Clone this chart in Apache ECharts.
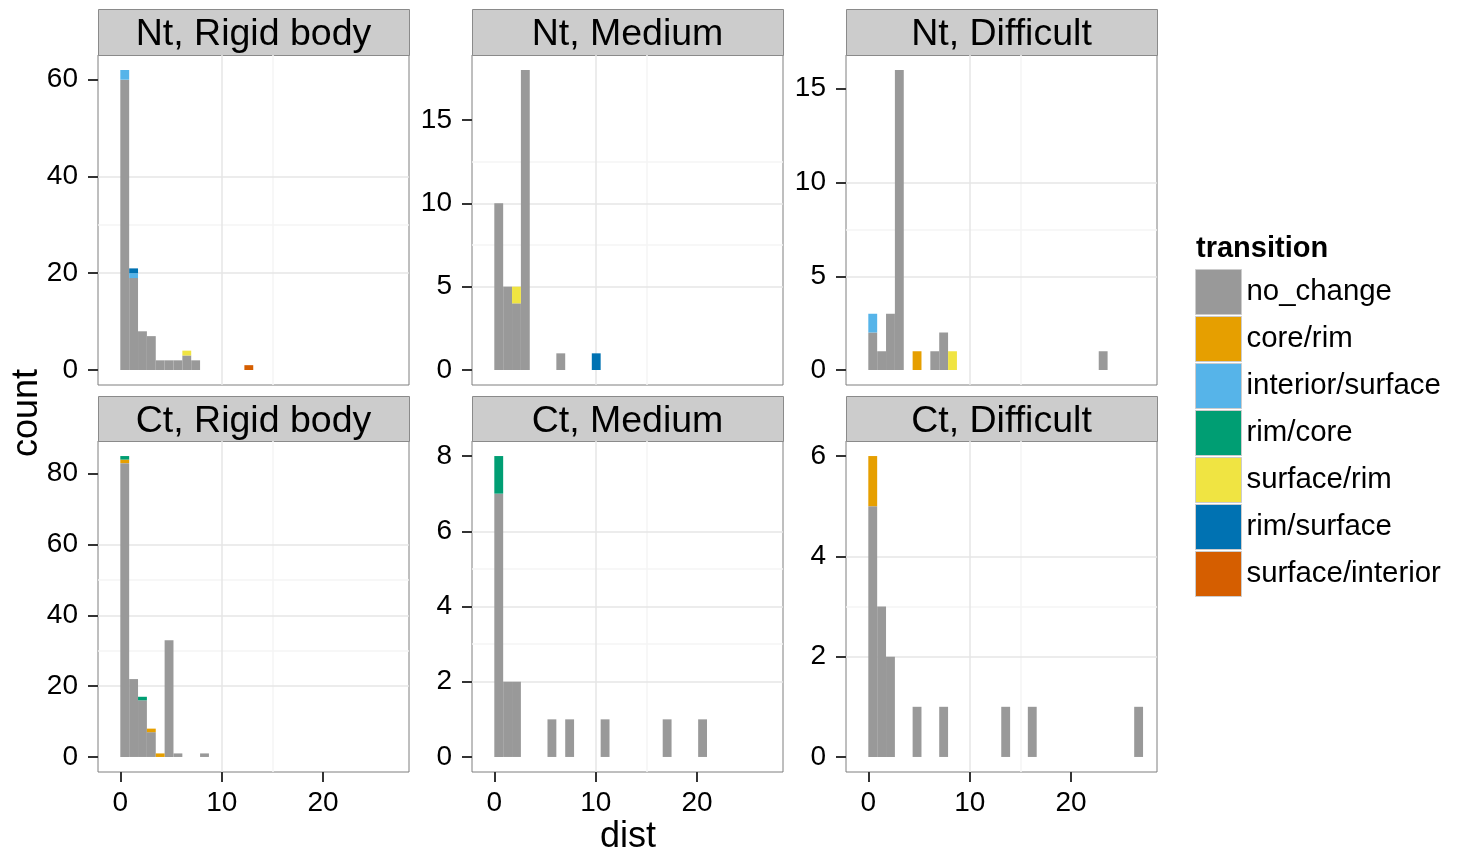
<!DOCTYPE html>
<html>
<head>
<meta charset="utf-8">
<title>dist by transition</title>
<script src="https://cdn.jsdelivr.net/npm/echarts@6/dist/echarts.min.js"></script>
<style>
  html, body { margin: 0; padding: 0; background: #fff; }
  #chart { width: 1460px; height: 856px; }
</style>
</head>
<body>
<div id="chart"></div>
<script>
// legend order is also the stacking order (bottom -> top)
const transitions = ['no_change', 'core/rim', 'interior/surface', 'rim/core', 'surface/rim', 'rim/surface', 'surface/interior'];
const transitionColors = ['#999999', '#E69F00', '#56B4E9', '#009E73', '#F0E442', '#0072B2', '#D55E00'];

// histogram bins: bin k covers [k*binWidth, (k+1)*binWidth)
const binWidth = 0.874;

// rows are [bin, transition, count]
const ntRigid = [
  [0, 'no_change', 60], [0, 'interior/surface', 2],
  [1, 'no_change', 19], [1, 'interior/surface', 1], [1, 'rim/surface', 1],
  [2, 'no_change', 8], [3, 'no_change', 7], [4, 'no_change', 2], [5, 'no_change', 2], [6, 'no_change', 2],
  [7, 'no_change', 3], [7, 'surface/rim', 1], [8, 'no_change', 2],
  [14, 'surface/interior', 1]
];
const ntMedium = [
  [0, 'no_change', 10], [1, 'no_change', 5], [2, 'no_change', 4], [2, 'surface/rim', 1],
  [3, 'no_change', 18], [7, 'no_change', 1], [11, 'rim/surface', 1]
];
const ntDifficult = [
  [0, 'no_change', 2], [0, 'interior/surface', 1], [1, 'no_change', 1], [2, 'no_change', 3],
  [3, 'no_change', 16], [5, 'core/rim', 1], [7, 'no_change', 1], [8, 'no_change', 2],
  [9, 'surface/rim', 1], [26, 'no_change', 1]
];
const ctRigid = [
  [0, 'no_change', 83], [0, 'core/rim', 1], [0, 'rim/core', 1],
  [1, 'no_change', 22], [2, 'no_change', 16], [2, 'rim/core', 1],
  [3, 'no_change', 7], [3, 'core/rim', 1], [4, 'core/rim', 1],
  [5, 'no_change', 33], [6, 'no_change', 1], [9, 'no_change', 1]
];
const ctMedium = [
  [0, 'no_change', 7], [0, 'rim/core', 1], [1, 'no_change', 2], [2, 'no_change', 2],
  [6, 'no_change', 1], [8, 'no_change', 1], [12, 'no_change', 1], [19, 'no_change', 1], [23, 'no_change', 1]
];
const ctDifficult = [
  [0, 'no_change', 5], [0, 'core/rim', 1], [1, 'no_change', 3], [2, 'no_change', 2],
  [5, 'no_change', 1], [8, 'no_change', 1], [15, 'no_change', 1], [18, 'no_change', 1], [30, 'no_change', 1]
];

const panelTitles = ['Nt, Rigid body', 'Nt, Medium', 'Nt, Difficult', 'Ct, Rigid body', 'Ct, Medium', 'Ct, Difficult'];
const panelRows = [ntRigid, ntMedium, ntDifficult, ctRigid, ctMedium, ctDifficult];

// tick labels
const xTicks = [0, 10, 20];
const xMinorTicks = [5, 15, 25];
const yTicks = [[0, 20, 40, 60], [0, 5, 10, 15], [0, 5, 10, 15], [0, 20, 40, 60, 80], [0, 2, 4, 6, 8], [0, 2, 4, 6]];
const yMinorTicks = [[10, 30, 50], [2.5, 7.5, 12.5, 17.5], [2.5, 7.5, 12.5], [10, 30, 50, 70], [1, 3, 5, 7], [1, 3, 5]];

const xMin = -2.2, xMax = 28.47;

// layout
const font = '"Liberation Sans", Arial, Helvetica, sans-serif';
const colLeft = [98, 472, 846];
const panelW = 311;
const rowTop = [55, 441];
const panelH = [330, 331];
const stripTop = [9, 396];
const stripH = [46, 45];

const tickLine = { show: true, length: 10, lineStyle: { color: '#333', width: 2 } };

// stack the rows of one panel into rectangles [x0, x1, y0, y1], per transition
function stackPanel(rows) {
  const base = {};
  const out = transitions.map(() => []);
  transitions.forEach((t, ti) => {
    rows.filter(r => r[1] === t).sort((a, b) => a[0] - b[0]).forEach(r => {
      const y0 = base[r[0]] || 0;
      const y1 = y0 + r[2];
      base[r[0]] = y1;
      out[ti].push([r[0] * binWidth, (r[0] + 1) * binWidth, y0, y1]);
    });
  });
  const top = Math.max.apply(null, Object.values(base));
  return { rects: out, top: top };
}

function renderBar(params, api) {
  const p0 = api.coord([api.value(0), api.value(2)]);
  const p1 = api.coord([api.value(1), api.value(3)]);
  return {
    type: 'rect',
    shape: { x: p0[0], y: p1[1], width: p1[0] - p0[0], height: p0[1] - p1[1] },
    style: { fill: api.visual('color') }
  };
}

const grids = [], xAxes = [], yAxes = [], series = [], graphics = [];

panelRows.forEach((rows, i) => {
  const row = Math.floor(i / 3), col = i % 3;
  const st = stackPanel(rows);
  const yMax = st.top * 1.05, yMin = -st.top * 0.05;

  grids.push({
    left: colLeft[col], top: rowTop[row], width: panelW, height: panelH[row],
    show: true, backgroundColor: '#fff', borderColor: '#7f7f7f', borderWidth: 1
  });

  // major axes (labels, ticks, major grid)
  xAxes[i] = {
    type: 'value', gridIndex: i, min: xMin, max: xMax, splitNumber: 3, z: 2,
    axisLine: { show: false, onZero: false },
    axisTick: Object.assign({ customValues: xTicks }, tickLine, { show: row === 1 }),
    axisLabel: { show: row === 1, customValues: xTicks, margin: 17, fontSize: 28, color: '#000', fontFamily: font },
    splitLine: { show: true, showMinLine: false, showMaxLine: false, lineStyle: { color: '#e6e6e6', width: 1.5 } }
  };
  yAxes[i] = {
    type: 'value', gridIndex: i, min: yMin, max: yMax, splitNumber: 4, z: 2,
    axisLine: { show: false, onZero: false },
    axisTick: Object.assign({ customValues: yTicks[i] }, tickLine),
    axisLabel: { customValues: yTicks[i], margin: 20, fontSize: 28, color: '#000', fontFamily: font, padding: [6, 0, 0, 0] },
    splitLine: { show: true, showMinLine: false, showMaxLine: false, lineStyle: { color: '#e6e6e6', width: 1.5 } }
  };
  // minor grid axes
  xAxes[6 + i] = {
    type: 'value', gridIndex: i, min: xMin, max: xMax, splitNumber: 6, z: 1,
    axisLine: { show: false, onZero: false },
    axisTick: { show: false, customValues: xMinorTicks },
    axisLabel: { show: false },
    splitLine: { show: true, showMinLine: false, showMaxLine: false, lineStyle: { color: '#f4f4f4', width: 1.5 } }
  };
  yAxes[6 + i] = {
    type: 'value', gridIndex: i, min: yMin, max: yMax, splitNumber: 8, z: 1,
    axisLine: { show: false, onZero: false },
    axisTick: { show: false, customValues: yMinorTicks[i] },
    axisLabel: { show: false },
    splitLine: { show: true, showMinLine: false, showMaxLine: false, lineStyle: { color: '#f4f4f4', width: 1.5 } }
  };

  st.rects.forEach((data, ti) => {
    if (!data.length) return;
    series.push({
      type: 'custom', name: transitions[ti], xAxisIndex: i, yAxisIndex: i,
      itemStyle: { color: transitionColors[ti] },
      encode: { x: [0, 1], y: [2, 3] },
      renderItem: renderBar, data: data, z: 3
    });
  });

  // facet strip
  graphics.push({
    type: 'rect', left: colLeft[col], top: stripTop[row],
    shape: { width: panelW, height: stripH[row] },
    style: { fill: '#cccccc', stroke: '#8a8a8a', lineWidth: 1 }
  });
  graphics.push({
    type: 'text', x: colLeft[col] + panelW / 2, y: stripTop[row] + stripH[row] / 2 + 3,
    style: { text: panelTitles[i], fill: '#000', font: '37.5px ' + font, textAlign: 'center', textVerticalAlign: 'middle' }
  });
});

graphics.push({
  type: 'text', x: 27, y: 413, rotation: Math.PI / 2,
  style: { text: 'count', fill: '#000', font: '36px ' + font, textAlign: 'center', textVerticalAlign: 'middle' }
});
graphics.push({
  type: 'text', x: 628, y: 837,
  style: { text: 'dist', fill: '#000', font: '36px ' + font, textAlign: 'center', textVerticalAlign: 'middle' }
});

const chart = echarts.init(document.getElementById('chart'));
chart.setOption({
  animation: false,
  backgroundColor: '#fff',
  title: {
    text: 'transition', left: 1196, top: 234, padding: 0,
    textStyle: { fontSize: 29, fontWeight: 'bold', color: '#000', fontFamily: font }
  },
  legend: {
    data: transitions, orient: 'vertical', left: 1195, top: 269, padding: 0,
    itemWidth: 46, itemHeight: 45, itemGap: 1, icon: 'rect', selectedMode: false,
    itemStyle: { borderColor: '#cccccc', borderWidth: 1 },
    textStyle: { fontSize: 29.4, color: '#000', fontFamily: font, padding: [7, 0, 0, 0] }
  },
  grid: grids,
  xAxis: xAxes,
  yAxis: yAxes,
  series: series,
  graphic: graphics
});
</script>
</body>
</html>
